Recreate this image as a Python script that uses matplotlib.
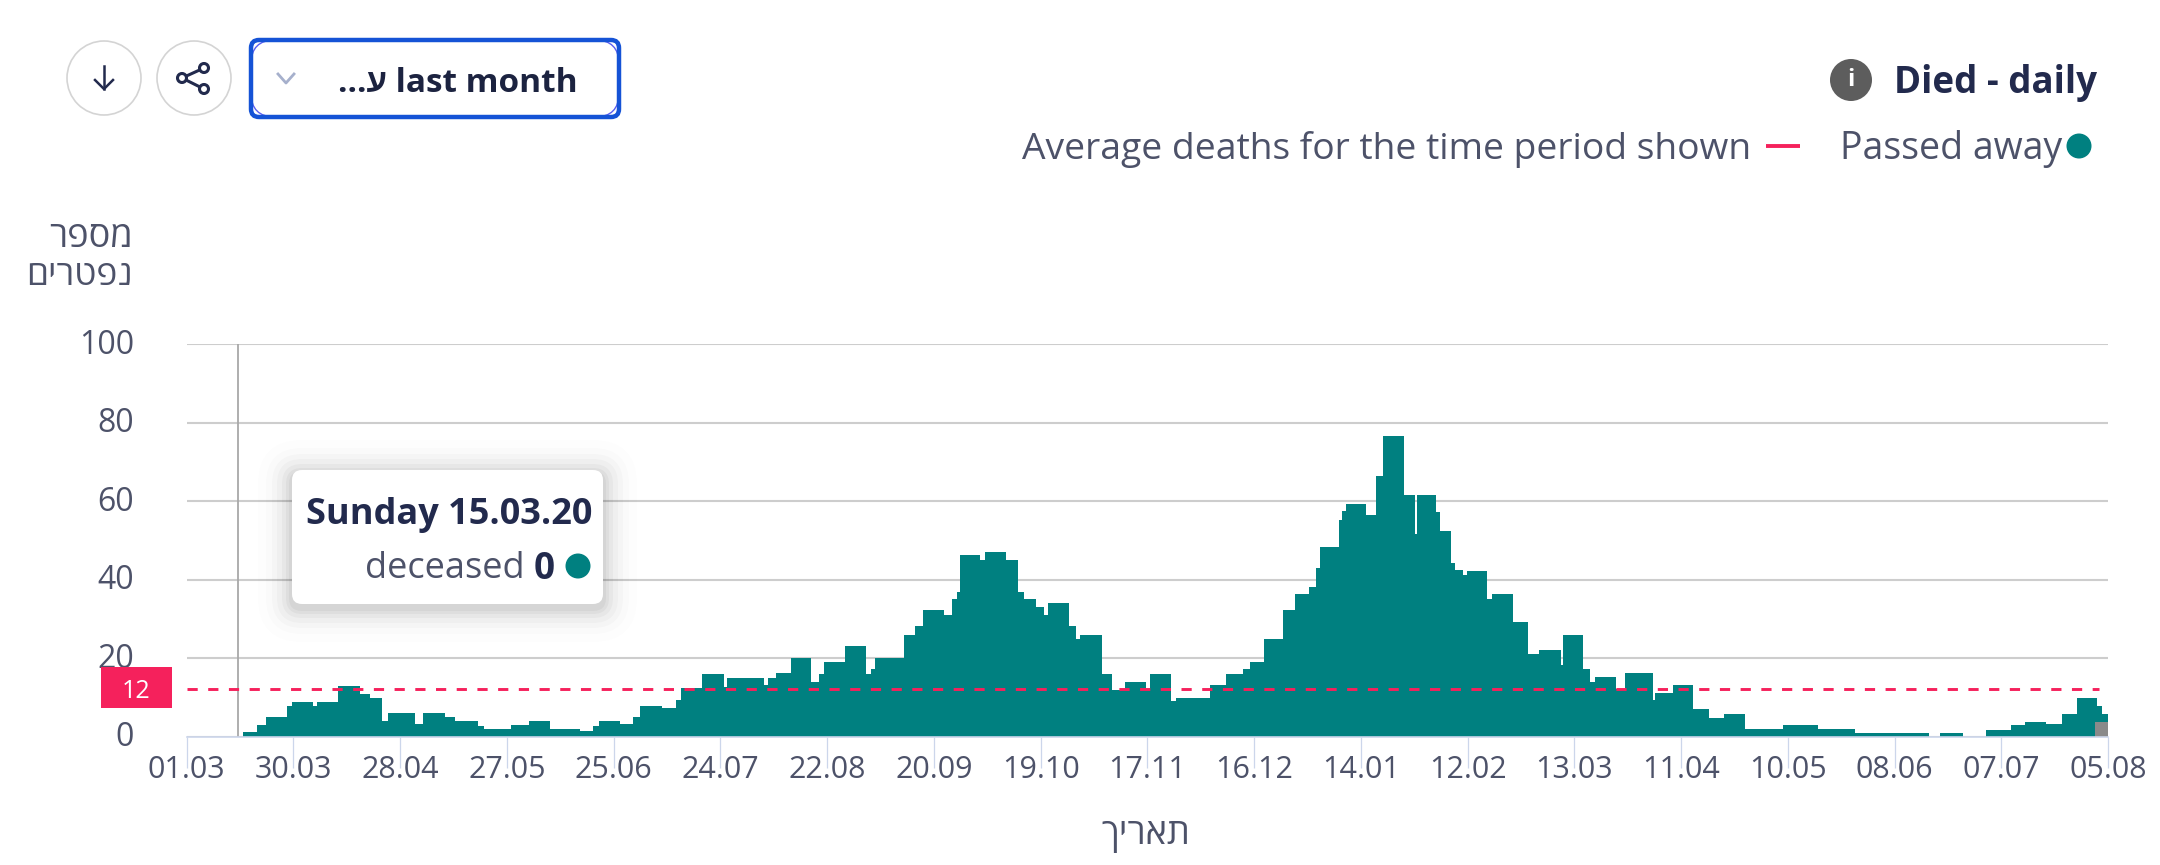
import matplotlib
matplotlib.use("Agg")
import matplotlib.pyplot as plt
from matplotlib.patches import Circle, FancyBboxPatch, Rectangle
from matplotlib.transforms import ScaledTranslation

# text fonts, hebrew falls through to Liberation if Open Sans lacks it
plt.rcParams['font.family'] = ['Open Sans', 'Liberation Sans', 'DejaVu Sans']

# day offset from 01.03.20 where each step of the series starts
step_start = [15.2, 19.2, 21.5, 27.3, 28.5, 34.4, 35.5, 41.2, 47.0, 49.8, 53, 54.7, 62, 64.2, 70.1, 72.8,
              79.2, 80.7, 88.2, 93, 98.6, 100.4, 106.8, 110.4, 112, 117.6, 121.3, 123.2, 129, 133, 134.4,
              140.1, 145.9, 146.7, 156.8, 158, 160, 164.1, 169.7, 171.8, 173.1, 178.8, 184.5, 186, 187.1,
              195, 198, 200, 205.7, 208, 209.3, 210, 215.4, 216.8, 222.7, 225.8, 227.6, 230.8, 232.8, 234,
              239.7, 241.7, 242.8, 248.6, 251.5, 254.8, 260.7, 261.8, 267.5, 268.8,
              277.9, 282.3, 287.1, 289, 292.8, 297.8, 301, 304.9, 306.9, 307.8, 313, 314, 315, 320.3, 323,
              325, 330.6, 333.6, 334.2, 339.3, 340.4, 343.5, 344.7, 346.7, 347.8, 353.2, 354.7, 360.3,
              364.3, 367.5, 373.4, 373.8, 379.3, 381.3, 382.7, 388.3, 390.8, 398.3, 399, 403.7, 409.3,
              413.5, 417.8, 423.5, 433.6, 443.1, 453.3, 473.4, 476.3, 482.5, 488.8, 495.6, 499.5, 505.1,
              509.4, 513.5, 519.1, 520.3]
deaths = [1.2, 3, 5, 8, 9, 8, 9, 13, 11, 10, 4, 6, 3.4, 6, 5, 4,
          2.7, 2, 3, 4, 2, 2, 1.5, 2.7, 4, 3.3, 5, 8, 7.3, 9.5, 12.4,
          16, 12.8, 15, 13.2, 15, 16.2, 20, 13.9, 16, 19, 23.1, 16, 17.2, 20.2,
          26, 28.3, 32.2, 31, 35, 37, 46.2, 45, 47.2, 45, 37, 35, 33, 31, 34.2,
          28.3, 25, 26, 16, 12, 13.9, 12, 16, 9.2, 10,
          13.2, 16, 17.2, 19.2, 25, 32.3, 36.3, 38.2, 43, 48.4, 55.3, 57.6, 59.3, 56.5, 66.4,
          76.6, 61.6, 51.6, 61.6, 57.3, 52.3, 44.4, 42.4, 41.2, 42.3, 35.2, 36.3, 29.3,
          21.2, 22.2, 18.3, 26, 17.2, 14, 15.2, 12.2, 16.2, 9.4, 11.3, 13.2, 7.2,
          4.9, 5.9, 2, 3, 2, 1, 0, 1, 0, 1.9, 3, 3.9, 3.2,
          5.9, 10, 8, 5.9]
last_day = 522
partial_edges = [518.6, 522]
partial_values = [3.8]
average = 12.3
average_end = 519.6
hover_day = 14

tick_labels = ['01.03', '30.03', '28.04', '27.05', '25.06', '24.07', '22.08', '20.09', '19.10', '17.11',
               '16.12', '14.01', '12.02', '13.03', '11.04', '10.05', '08.06', '07.07', '05.08']
tick_days = [i * 29 for i in range(len(tick_labels))]
y_ticks = [0, 20, 40, 60, 80, 100]

TEAL = '#008080'
RED = '#f5215c'
DARK = '#222a4d'
MID = '#4d5269'
W, H = 2160, 865

fig = plt.figure(figsize=(W / 100, H / 100), dpi=100)

# main chart, placed by pixel position
left, right, top, bottom = 186.7, 2108, 344, 737
ax = fig.add_axes([left / W, 1 - bottom / H, (right - left) / W, (bottom - top) / H])
ax.set_xlim(0, last_day)
ax.set_ylim(0, 100)
ax.stairs(deaths, step_start + [last_day], baseline=0, fill=True, color=TEAL, zorder=2)
ax.stairs(partial_values, partial_edges, baseline=0, fill=True, color='#8a8a8a', zorder=2.5)
ax.plot([0, average_end], [average, average], color=RED, lw=2.1, dashes=(3.5, 3.6), zorder=3)
ax.plot([hover_day, hover_day], [0, 100], color='#a8a8a8', lw=1.3, zorder=1.5)

ax.set_axisbelow(True)
ax.grid(axis='y', color='#cdcdcd', lw=1.5)
ax.set_xticks(tick_days)
ax.set_xticklabels(tick_labels, fontsize=22, color=MID)
ax.set_yticks(y_ticks)
ax.set_yticklabels(y_ticks, fontsize=23, color=MID)
ax.tick_params(axis='x', length=22, width=0.9, color='#ccd6eb', pad=-9)
ax.tick_params(axis='y', length=0, pad=38)
for lab in ax.get_yticklabels():
    lab.set_transform(lab.get_transform() + ScaledTranslation(0, 3 / 100, fig.dpi_scale_trans))
for s in ['top', 'left', 'right']:
    ax.spines[s].set_visible(False)
ax.spines['bottom'].set_color('#ccd6eb')
ax.spines['bottom'].set_linewidth(1.2)

# overlay in pixel coordinates for the page furniture around the chart
ov = fig.add_axes([0, 0, 1, 1], facecolor='none', zorder=5)
ov.set_xlim(0, W)
ov.set_ylim(H, 0)
ov.axis('off')

# hebrew strings are in visual order, matplotlib does not reorder them
ov.text(133, 238, 'רפסמ', ha='right', va='center', fontsize=26, color=MID)
ov.text(133, 276, 'םירטפנ', ha='right', va='center', fontsize=25.5, color=MID)
ov.text(1146, 835, 'ךיראת', ha='center', va='center', fontsize=26, color=MID)

# average label
ov.add_patch(Rectangle((101, 667), 71, 41, color=RED, lw=0))
ov.text(136, 691, '12', ha='center', va='center', fontsize=18, color='white')

# buttons
for cx in [104, 194]:
    ov.add_patch(Circle((cx, 78), 37, fc='white', ec='#d4d4d4', lw=1.2))
ov.plot([104, 104], [66, 89], color=DARK, lw=1.8)
ov.plot([95, 104, 113], [80, 89, 80], color=DARK, lw=1.8)
ov.plot([204, 182, 204], [68, 78, 89], color=DARK, lw=2.2)
for px, py in [(204, 68), (182, 78), (204, 89)]:
    ov.add_patch(Circle((px, py), 4.5, fc='white', ec=DARK, lw=2.2, zorder=3))

# dropdown, thin inner arcs show only in the corners
ov.add_patch(FancyBboxPatch((251, 40), 368, 77, boxstyle='round,pad=0,rounding_size=24',
                            fc='white', ec='#5a5ef0', lw=1.0))
ov.add_patch(FancyBboxPatch((251, 40), 368, 77, boxstyle='round,pad=0,rounding_size=8',
                            fc='none', ec='#1553d6', lw=3.2))
ov.plot([278, 286, 294], [74, 83, 74], color='#a6b0cc', lw=2)
ov.text(578, 83, '...ע last month', ha='right', va='center', fontsize=24, fontweight='bold', color='#1c2340')

# title and legend
ov.add_patch(Circle((1851, 80), 21, color='#5d5d5d', lw=0))
ov.text(1851, 80, 'i', ha='center', va='center', fontsize=17, fontweight='bold', color='white')
ov.text(2097, 83, 'Died - daily', ha='right', va='center', fontsize=26.5, fontweight='bold', color=DARK)
ov.text(1751, 149, 'Average deaths for the time period shown', ha='right', va='center', fontsize=26.8, color=MID)
ov.plot([1766, 1800], [146, 146], color=RED, lw=2.8, solid_capstyle='butt')
ov.text(2062, 149, 'Passed away', ha='right', va='center', fontsize=27, color=MID)
ov.add_patch(Circle((2079, 146), 12.5, color=TEAL, lw=0))

# tooltip with a soft shadow
for grow, alpha in [(34, 0.008), (26, 0.012), (20, 0.018), (15, 0.025), (10, 0.03), (6, 0.035), (3, 0.04)]:
    ov.add_patch(FancyBboxPatch((292 - grow, 470 - grow + 4), 311 + 2 * grow, 134 + 2 * grow,
                                boxstyle='round,pad=0,rounding_size=%d' % (10 + grow),
                                fc='black', ec='none', alpha=alpha))
ov.add_patch(FancyBboxPatch((292, 470), 311, 134, boxstyle='round,pad=0,rounding_size=10',
                            fc='white', ec='none'))
ov.text(592, 515, 'Sunday 15.03.20', ha='right', va='center', fontsize=26, fontweight='bold', color=DARK)
ov.text(525, 569, 'deceased', ha='right', va='center', fontsize=26, color=MID)
ov.text(555, 569, '0', ha='right', va='center', fontsize=26.5, fontweight='bold', color=DARK)
ov.add_patch(Circle((578, 566), 12.5, color=TEAL, lw=0))

fig.savefig('out.png', dpi=100)
